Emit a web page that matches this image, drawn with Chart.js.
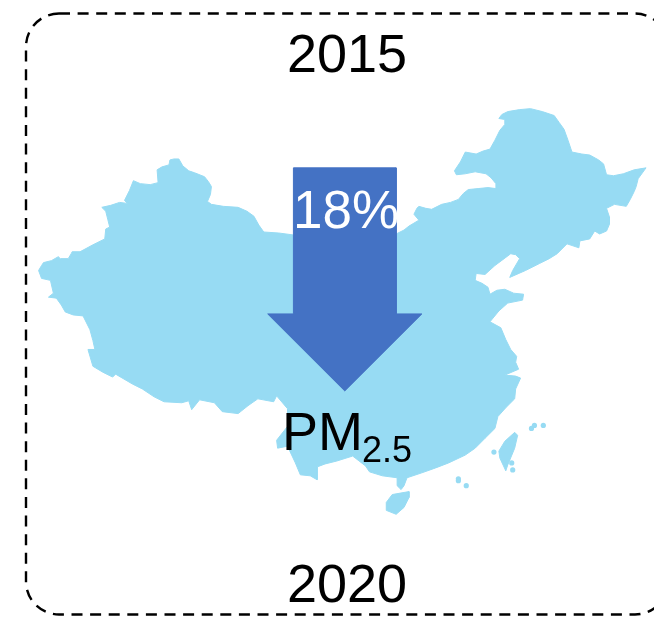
<!DOCTYPE html>
<html lang="en">
<head>
    <meta charset="UTF-8">
    <title>PM2.5 2015-2020</title>
    <script src="https://cdn.jsdelivr.net/npm/chart.js"></script>
    <style>
        html, body { margin: 0; padding: 0; background: #fff; overflow: hidden; }
        canvas { display: block; }
    </style>
</head>
<body>
    <canvas id="myChart" width="654" height="617"></canvas>
    <script>
        // Map outline, [x, y] in picture units
        const mainland = [[35,270],[38,265],[40,262],[48,260],[55,256],[57,258],[65,258],[68,253],[69,251],[77,251],[90,244],[102,238],[103,228],[107,226],[105,218],[103,210],[99,206],[108,204],[117,201],[125,202],[122,199],[127,189],[131,179],[138,182],[148,183],[156,181],[155,168],[160,165],[167,163],[168,158],[172,157],[177,157],[181,164],[187,169],[193,171],[203,175],[207,180],[210,185],[209,193],[206,200],[210,203],[222,205],[237,206],[246,210],[253,215],[258,224],[263,231],[278,232],[293,234],[345,236],[397,233],[405,229],[410,225],[420,219],[415,213],[418,207],[420,205],[427,207],[433,208],[443,203],[452,201],[460,198],[465,192],[470,188],[480,187],[490,186],[498,187],[498,182],[493,176],[488,172],[477,170],[467,172],[458,173],[456,169],[462,160],[467,150],[478,152],[485,149],[492,147],[497,138],[502,128],[507,122],[507,117],[501,116],[504,112],[510,109],[522,107],[533,106],[545,109],[557,113],[562,120],[567,127],[571,138],[575,150],[585,152],[593,153],[602,158],[607,162],[610,173],[617,174],[627,172],[638,168],[650,166],[642,177],[640,185],[638,190],[634,198],[630,205],[618,203],[610,207],[613,216],[613,223],[610,230],[603,233],[598,230],[593,238],[583,240],[582,247],[570,243],[560,253],[552,258],[542,263],[528,270],[512,277],[515,270],[522,258],[518,254],[513,253],[505,259],[497,265],[487,274],[478,273],[477,280],[484,283],[490,287],[492,294],[499,290],[507,289],[516,293],[526,294],[525,300],[510,303],[501,311],[492,322],[503,328],[508,340],[513,350],[519,357],[518,363],[521,370],[507,376],[518,377],[523,379],[518,390],[517,400],[508,409],[500,418],[497,430],[487,440],[477,450],[467,457],[450,465],[437,470],[423,475],[408,480],[405,488],[402,492],[398,488],[398,480],[383,478],[370,474],[366,468],[353,458],[337,463],[325,466],[317,469],[317,482],[310,478],[300,477],[295,465],[287,448],[277,450],[276,442],[287,428],[287,410],[276,397],[273,403],[257,400],[247,407],[237,415],[221,413],[213,404],[198,401],[190,411],[187,402],[180,404],[162,403],[152,398],[140,390],[130,385],[113,375],[110,378],[100,373],[90,367],[85,350],[92,350],[90,341],[87,330],[80,316],[70,315],[62,312],[58,305],[53,298],[45,297],[50,293],[47,280],[38,278]];
        const hainan = [[387,505],[393,497],[410,494],[410,500],[405,510],[397,517],[387,513]];
        const taiwan = [[501,453],[507,443],[517,434],[520,437],[517,450],[510,467],[508,473],[502,460]];
        const smallIslands = [[496,454],[514,465],[515,472],[537,427],[534,430],[546,427],[460,483],[460,481],[468,488]];
        const arrowShape = [[293,166],[397,166],[397,314],[423,314],[345,392],[267,314],[293,314]];

        // Text labels
        const topYear = '2015';
        const bottomYear = '2020';
        const changeLabel = '18%';
        const pollutant = 'PM';
        const pollutantSub = '2.5';

        const mapBlue = '#97dbf3';
        const arrowBlue = '#4472c4';

        function toPoints(list) {
            return list.map(function(p) { return { x: p[0], y: p[1] }; });
        }

        function polygon(list, color, order) {
            return {
                data: toPoints(list.concat([list[0]])),
                showLine: true,
                fill: 'shape',
                tension: 0,
                backgroundColor: color,
                borderColor: color,
                borderWidth: 1,
                pointRadius: 0,
                order: order
            };
        }

        // Dashed frame and the text go on top of the datasets
        const overlay = {
            id: 'overlay',
            afterDatasetsDraw: function(chart) {
                const ctx = chart.ctx;
                ctx.save();
                ctx.strokeStyle = '#000';
                ctx.lineWidth = 2.4;
                ctx.setLineDash([11, 7.6]);
                ctx.beginPath();
                ctx.roundRect(26, 13.5, 642, 601, 33);
                ctx.stroke();
                ctx.setLineDash([]);

                ctx.textBaseline = 'alphabetic';
                ctx.textAlign = 'left';
                ctx.fillStyle = '#000';
                ctx.font = '54px "Liberation Sans"';
                ctx.fillText(topYear, 287, 72);
                ctx.fillText(bottomYear, 287, 602);
                ctx.fillText(pollutant, 282, 450);
                ctx.font = '36px "Liberation Sans"';
                ctx.fillText(pollutantSub, 362, 462);
                ctx.fillStyle = '#fff';
                ctx.font = '53px "Liberation Sans"';
                ctx.fillText(changeLabel, 293, 228);
                ctx.restore();
            }
        };

        const ctx = document.getElementById('myChart').getContext('2d');
        const myChart = new Chart(ctx, {
            type: 'scatter',
            data: {
                datasets: [
                    polygon(mainland, mapBlue, 3),
                    polygon(hainan, mapBlue, 3),
                    polygon(taiwan, mapBlue, 3),
                    {
                        data: toPoints(smallIslands),
                        backgroundColor: mapBlue,
                        borderWidth: 0,
                        pointRadius: 2.6,
                        order: 3
                    },
                    polygon(arrowShape, arrowBlue, 1)
                ]
            },
            options: {
                responsive: false,
                animation: false,
                layout: { padding: 0 },
                plugins: { legend: { display: false }, tooltip: { enabled: false } },
                scales: {
                    x: { type: 'linear', display: false, min: 0, max: 654 },
                    y: { type: 'linear', display: false, min: 0, max: 617, reverse: true }
                }
            },
            plugins: [overlay]
        });
    </script>
</body>
</html>
